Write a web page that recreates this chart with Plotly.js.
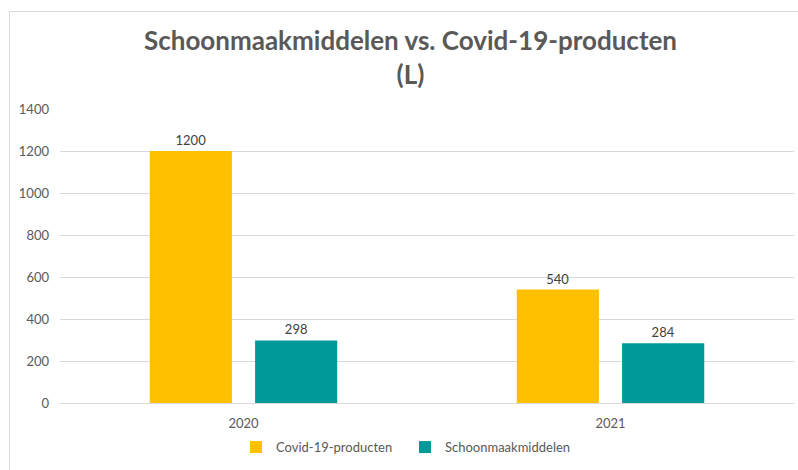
<!DOCTYPE html>
<html>
<head>
<meta charset="utf-8">
<script src="https://cdn.plot.ly/plotly-3.0.1.min.js"></script>
<style>
  html, body { margin: 0; padding: 0; overflow: hidden; background: #fff; width: 798px; height: 470px; }
  #chart { position: absolute; left: 9px; top: 11px; width: 801px; height: 462px; border: 1px solid #d9d9d9; }
</style>
</head>
<body>
<div id="chart"></div>
<script>
  var years = ['2020', '2021'];
  var covidValues = [1200, 540];
  var cleaningValues = [298, 284];
  var yTicks = [0, 200, 400, 600, 800, 1000, 1200, 1400];

  var textFont = { family: 'Lato, "Open Sans", sans-serif', size: 13, color: '#595959' };

  var covid = {
    x: years,
    y: covidValues,
    type: 'bar',
    name: 'Covid-19-producten',
    text: covidValues.map(String),
    textposition: 'outside',
    cliponaxis: false,
    textfont: { family: textFont.family, size: 13, color: '#404040' },
    marker: { color: '#FFC000' },
    hoverinfo: 'x+y+name'
  };

  var cleaning = {
    x: years,
    y: cleaningValues,
    type: 'bar',
    name: 'Schoonmaakmiddelen',
    text: cleaningValues.map(String),
    textposition: 'outside',
    cliponaxis: false,
    textfont: { family: textFont.family, size: 13, color: '#404040' },
    marker: { color: '#009999' },
    hoverinfo: 'x+y+name'
  };

  var layout = {
    width: 801,
    height: 462,
    margin: { l: 50, r: 17, t: 97, b: 69 },
    paper_bgcolor: '#ffffff',
    plot_bgcolor: '#ffffff',
    font: textFont,
    title: {
      text: '<b>Schoonmaakmiddelen vs. Covid-19-producten<br>(L)</b>',
      font: { family: textFont.family, size: 26, color: '#595959' },
      x: 0.5,
      xanchor: 'center',
      y: 0.918,
      yanchor: 'top'
    },
    barmode: 'group',
    bargap: 0.426,
    bargroupgap: 0.22,
    showlegend: true,
    legend: {
      orientation: 'h',
      x: 0.47,
      xanchor: 'center',
      y: -0.15,
      yanchor: 'middle',
      font: textFont,
      traceorder: 'normal',
      itemwidth: 30,
      entrywidth: 124,
      entrywidthmode: 'pixels'
    },
    xaxis: {
      type: 'category',
      showline: false,
      ticks: '',
      tickfont: textFont,
      ticklabelstandoff: 11
    },
    yaxis: {
      range: [0, 1400],
      tickvals: yTicks,
      ticktext: yTicks.map(String),
      showgrid: true,
      gridcolor: '#d9d9d9',
      gridwidth: 1,
      zeroline: true,
      zerolinecolor: '#d9d9d9',
      zerolinewidth: 1,
      showline: false,
      ticks: '',
      tickfont: textFont,
      ticklabelstandoff: 10
    }
  };

  Plotly.newPlot('chart', [covid, cleaning], layout, { displayModeBar: false, staticPlot: true });
</script>
</body>
</html>
